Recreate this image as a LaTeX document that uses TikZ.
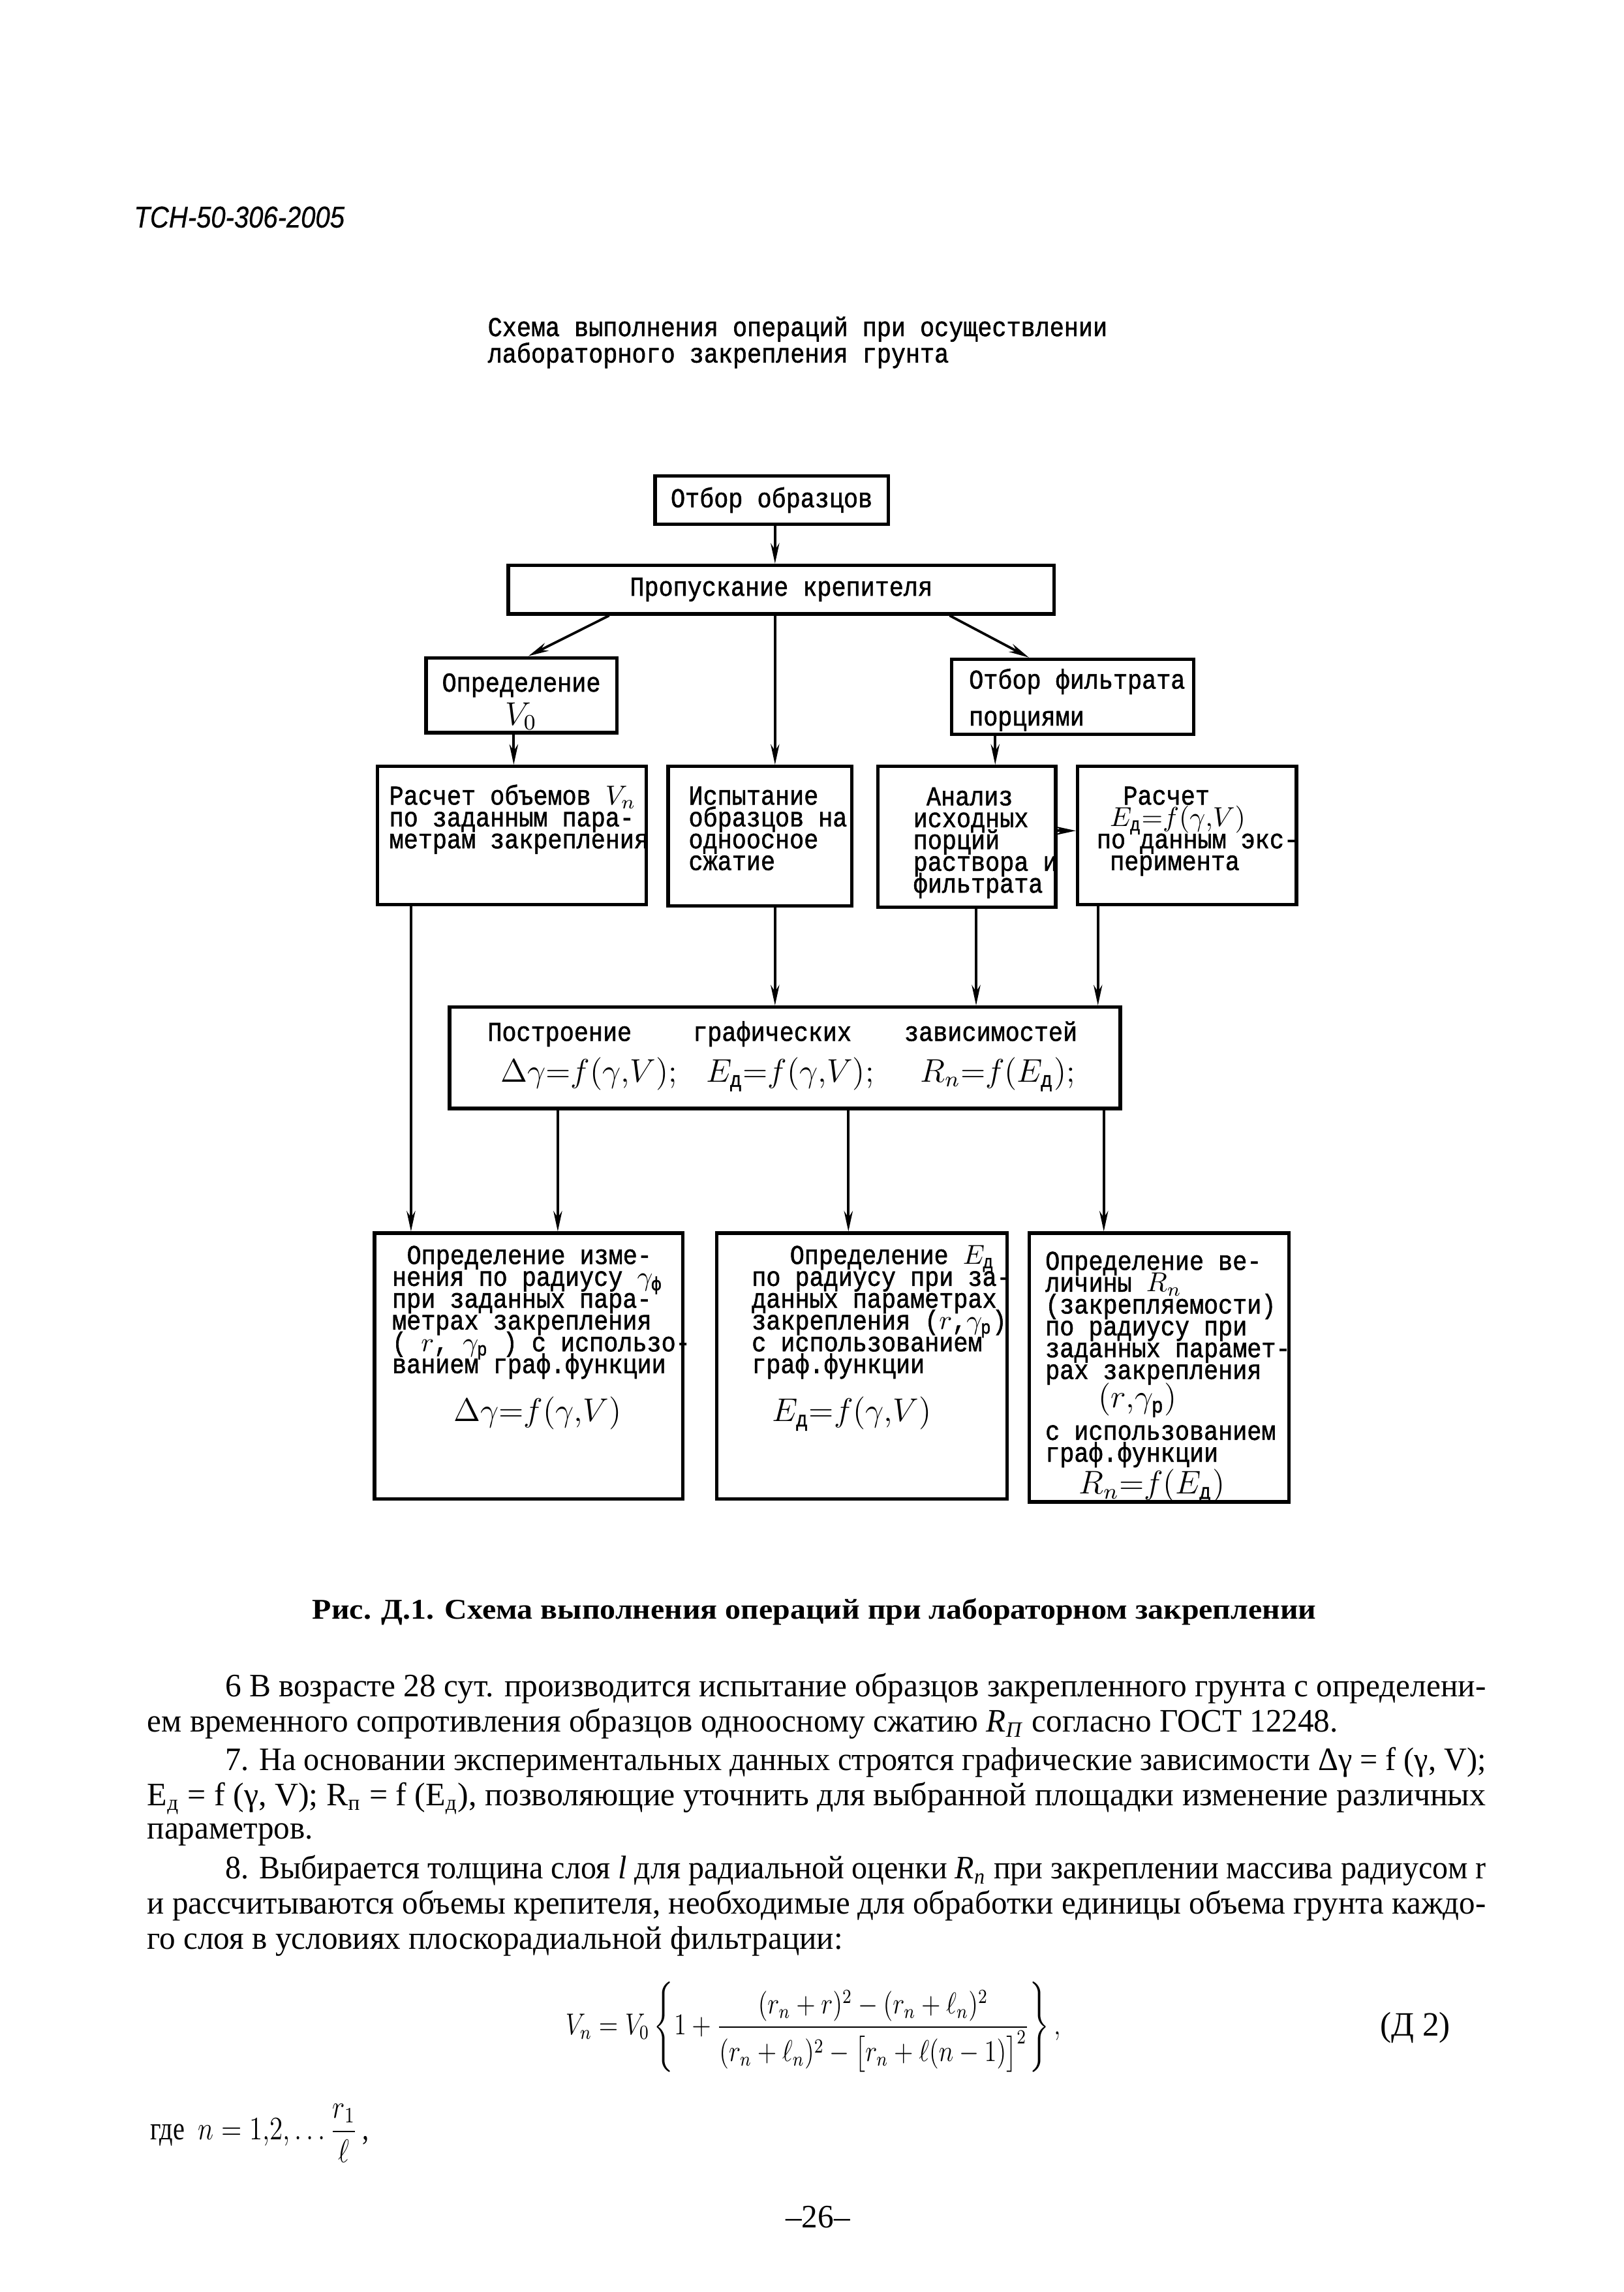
\documentclass[tikz,border=0pt]{standalone}
\usepackage{fontspec}
\usepackage{amsmath}
\usepackage{graphicx}
\usetikzlibrary{arrows.meta}
\setmainfont[FakeStretch=0.98]{Liberation Serif}
\newfontfamily\twfam[FakeStretch=0.88,FakeBold=1.3]{Liberation Mono}
\newfontfamily\hdfam[FakeStretch=0.87,FakeBold=0.6]{Liberation Sans}
\newlength\pxu
\setlength\pxu{0.538pt}
\newcommand\twsize{\fontsize{10pt}{8pt}\selectfont}
\newcommand\fm[1]{{\fontsize{12pt}{8pt}\selectfont$#1$}}
\newcommand\Ed{E_{\text{д}}}
% box with the text hung from its top: width, height, first baseline, left pad, lines
\newcommand\tbox[5]{\parbox[c][#2\pxu][t]{#1\pxu}{\lineskiplimit=-100pt\leftskip=#4\pxu
  \vspace*{\dimexpr#3\pxu-8pt\relax}\rule{0pt}{8pt}#5}}
\begin{document}
\begin{tikzpicture}[x=\pxu, y=-\pxu,
  blk/.style={draw, line width=1.3pt, inner sep=0pt, font=\twfam\twsize},
  lnk/.style={line width=0.9pt, -{Stealth[length=7.5pt,width=3.2pt]}},
  body/.style={anchor=base west, inner sep=0pt, font=\fontsize{12pt}{14pt}\selectfont}]
  \useasboundingbox (0,0) rectangle (1106,1561.6);

  % header and title
  \node[anchor=base west, inner sep=0pt, font=\hdfam\itshape\fontsize{11pt}{12pt}\selectfont] (shifr) at (91,155) {ТСН-50-306-2005};
  \node[anchor=base west, inner sep=0pt, font=\twfam\twsize] (title1) at (332,229) {Схема выполнения операций при осуществлении};
  \node[anchor=base west, inner sep=0pt, font=\twfam\twsize] (title2) at (332,247) {лабораторного закрепления грунта};

  % top of the scheme
  \node[blk, minimum width=159\pxu, minimum height=33\pxu, anchor=north west] (otbor) at (445,323) {Отбор образцов};
  \node[blk, minimum width=372\pxu, minimum height=33\pxu, anchor=north west] (prop) at (345,384) {Пропускание крепителя};
  \node[blk, anchor=north west] (opred) at (289,447) {\tbox{130}{51}{23}{11}{\mbox{Определение}\\[4.3pt]\hspace*{43\pxu}\fm{V_0}}};
  \node[blk, anchor=north west] (filtr) at (647,448) {\tbox{165}{51}{20}{12}{\mbox{Отбор фильтрата}\\[5.5pt]\mbox{порциями}}};

  % second row
  \node[blk, anchor=north west] (rasch) at (256,521) {\tbox{183}{94}{26}{8}{\mbox{Расчет объемов $V_n$}\\\mbox{по заданным пара-}\\\mbox{метрам закрепления}}};
  \node[blk, anchor=north west] (isp) at (454,521) {\tbox{125}{95}{26}{14}{\mbox{Испытание}\\\mbox{образцов на}\\\mbox{одноосное}\\\mbox{сжатие}}};
  \node[blk, anchor=north west] (anal) at (597,521) {\tbox{121}{96}{26.5}{24}{\hspace*{9\pxu}\mbox{Анализ}\\\mbox{исходных}\\\mbox{порций}\\\mbox{раствора и}\\\mbox{фильтрата}}};
  \node[blk, anchor=north west] (eksp) at (733,521) {\tbox{149}{94}{26}{13}{\hspace*{18\pxu}\mbox{Расчет}\\\hspace*{9\pxu}\mbox{$\Ed{=}f(\gamma{,}V)$}\\\mbox{по данным экс-}\\\hspace*{9\pxu}\mbox{перимента}}};

  % graphs
  \node[blk, anchor=north west] (postr) at (305,685) {\tbox{457}{69}{23}{0}{\hspace*{26\pxu}\makebox[140\pxu][l]{Построение}\makebox[144\pxu][l]{графических}зависимостей\\[7pt]\hspace*{35\pxu}\makebox[140\pxu][l]{\fm{\Delta\gamma{=}f(\gamma{,}V);}}\makebox[146\pxu][l]{\fm{\Ed{=}f(\gamma{,}V);}}\fm{R_n{=}f(\Ed);}}};

  % bottom row
  \node[blk, anchor=north west] (izm) at (254,839) {\tbox{210}{181}{21}{12}{\hspace*{10\pxu}\mbox{Определение изме-}\\\mbox{нения по радиусу $\gamma_{\text{ф}}$}\\\mbox{при заданных пара-}\\\mbox{метрах закрепления}\\\mbox{( $r$, $\gamma_{\text{р}}$ ) с использо-}\\\mbox{ванием граф.функции}\\[9.7pt]\hspace*{42\pxu}\fm{\Delta\gamma{=}f(\gamma{,}V)}}};
  \node[blk, anchor=north west] (edet) at (487,839) {\tbox{198}{181}{21}{24}{\hspace*{26\pxu}\mbox{Определение $\Ed$}\\\mbox{по радиусу при за-}\\\mbox{данных параметрах}\\\mbox{закрепления ($r${,}$\gamma_{\text{р}}$)}\\\mbox{с использованием}\\\mbox{граф.функции}\\[9.7pt]\hspace*{14\pxu}\fm{\Ed{=}f(\gamma{,}V)}}};
  \node[blk, anchor=north west] (rnv) at (700,839) {\tbox{177}{183}{25}{11}{\mbox{Определение ве-}\\\mbox{личины $R_n$}\\\mbox{(закрепляемости)}\\\mbox{по радиусу при}\\\mbox{заданных парамет-}\\\mbox{рах закрепления}\\[2.5pt]\hspace*{36\pxu}\fm{(r{,}\gamma_{\text{р}})}\\[3.8pt]\mbox{с использованием}\\\mbox{граф.функции}\\[3.8pt]\hspace*{23\pxu}\fm{R_n{=}f(\Ed)}}};

  % connectors
  \draw[lnk] (otbor.south -| 528,0) -- (prop.north -| 528,0);
  \draw[lnk] (prop.south -| 415,0) -- (opred.north -| 360,0);
  \draw[lnk] (prop.south -| 647,0) -- (filtr.north -| 701,0);
  \draw[lnk] (prop.south -| 528,0) -- (isp.north -| 528,0);
  \draw[lnk] (opred.south -| 350,0) -- (rasch.north -| 350,0);
  \draw[lnk] (filtr.south -| 678,0) -- (anal.north -| 678,0);
  \draw[lnk] (anal.east |- 0,566) -- (eksp.west |- 0,566);
  \draw[lnk] (rasch.south -| 280,0) -- (izm.north -| 280,0);
  \draw[lnk] (isp.south -| 528,0) -- (postr.north -| 528,0);
  \draw[lnk] (anal.south -| 665,0) -- (postr.north -| 665,0);
  \draw[lnk] (eksp.south -| 748,0) -- (postr.north -| 748,0);
  \draw[lnk] (postr.south -| 380,0) -- (izm.north -| 380,0);
  \draw[lnk] (postr.south -| 578,0) -- (edet.north -| 578,0);
  \draw[lnk] (postr.south -| 752,0) -- (rnv.north -| 752,0);

  % caption and text of the page
  \node[anchor=base west, inner sep=0pt, font=\bfseries\fontsize{10.5pt}{12pt}\selectfont] (capt) at (212.5,1103) {\resizebox{684\pxu}{\height}{Рис. Д.1. Схема выполнения операций при лабораторном закреплении}};
  \node[body] (p6a) at (153,1156) {\resizebox{859\pxu}{\height}{6 В возрасте 28 сут. производится испытание образцов закрепленного грунта с определени-}};
  \node[body] (p6b) at (100,1180) {ем временного сопротивления образцов одноосному сжатию \textit{R}\textsubscript{\textit{П}} согласно ГОСТ 12248.};
  \node[body] (p7a) at (153,1206) {\resizebox{859\pxu}{\height}{7. На основании экспериментальных данных строятся графические зависимости Δγ = f (γ, V);}};
  \node[body] (p7b) at (100,1230) {\resizebox{912\pxu}{\height}{E\textsubscript{д} = f (γ, V); R\textsubscript{п} = f (E\textsubscript{д}), позволяющие уточнить для выбранной площадки изменение различных}};
  \node[body] (p7c) at (100,1253) {параметров.};
  \node[body] (p8a) at (153,1280) {\resizebox{859\pxu}{\height}{8. Выбирается толщина слоя \textit{l} для радиальной оценки \textit{R}\textsubscript{\textit{п}} при закреплении массива радиусом r}};
  \node[body] (p8b) at (100,1304) {\resizebox{912\pxu}{\height}{и рассчитываются объемы крепителя, необходимые для обработки единицы объема грунта каждо-}};
  \node[body] (p8c) at (100,1328) {го слоя в условиях плоскорадиальной фильтрации:};

  \node[anchor=west, inner sep=0pt, font=\fontsize{12pt}{14pt}\selectfont] (formula) at (385,1381) {\scalebox{0.77}[0.92]{$V_n = V_0\left\{1+\dfrac{(r_n+r)^2-(r_n+\ell_n)^2}{(r_n+\ell_n)^2-\bigl[r_n+\ell(n-1)\bigr]^2}\right\},$}};
  \node[anchor=base west, inner sep=0pt, font=\fontsize{12.5pt}{14pt}\selectfont] (nomer) at (940,1387) {(Д 2)};
  \node[anchor=base west, inner sep=0pt, font=\fontsize{12pt}{14pt}\selectfont] (gde) at (102,1458) {\scalebox{0.82}[1]{где\enspace $n = 1{,}2{,}\ldots\dfrac{r_1}{\ell}$\,,}};
  \node[anchor=base west, inner sep=0pt, font=\fontsize{12pt}{14pt}\selectfont] (pagenum) at (535,1518) {–26–};
\end{tikzpicture}
\end{document}
